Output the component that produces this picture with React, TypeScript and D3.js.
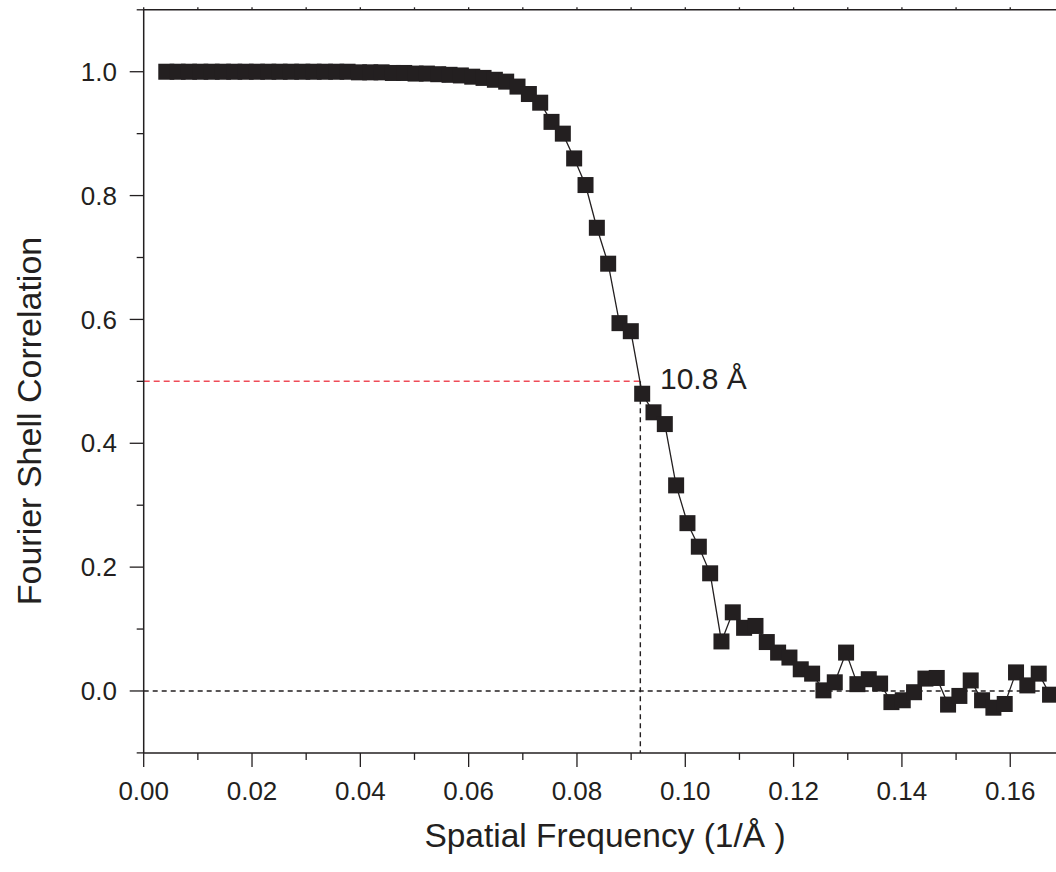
import React from 'react';
import * as d3 from 'd3';

// spatial frequency (1/Å) of each shell
const freq = [
  0.00417, 0.00626, 0.00836, 0.01045, 0.01254, 0.01463, 0.01672, 0.01882, 0.02091, 0.02300,
  0.02509, 0.02718, 0.02928, 0.03137, 0.03346, 0.03555, 0.03764, 0.03974, 0.04183, 0.04392,
  0.04601, 0.04810, 0.05020, 0.05229, 0.05438, 0.05647, 0.05856, 0.06066, 0.06275, 0.06484,
  0.06693, 0.06902, 0.07112, 0.07321, 0.07530, 0.07739, 0.07948, 0.08158, 0.08367, 0.08576,
  0.08785, 0.08994, 0.09204, 0.09413, 0.09622, 0.09831, 0.10040, 0.10250, 0.10459, 0.10668,
  0.10877, 0.11086, 0.11296, 0.11505, 0.11714, 0.11923, 0.12132, 0.12342, 0.12551, 0.12760,
  0.12969, 0.13178, 0.13388, 0.13597, 0.13806, 0.14015, 0.14224, 0.14434, 0.14643, 0.14852,
  0.15061, 0.15270, 0.15480, 0.15689, 0.15898, 0.16107, 0.16316, 0.16526, 0.16735,
];

// Fourier shell correlation values
const fsc = [
  1.000, 1.000, 1.000, 1.000, 1.000, 1.000, 1.000, 1.000, 1.000, 1.000,
  1.000, 1.000, 1.000, 1.000, 1.000, 1.000, 1.000, 0.999, 0.999, 0.999,
  0.998, 0.998, 0.997, 0.997, 0.996, 0.995, 0.994, 0.992, 0.990, 0.987,
  0.984, 0.976, 0.964, 0.950, 0.919, 0.900, 0.860, 0.817, 0.748, 0.690,
  0.594, 0.581, 0.480, 0.450, 0.431, 0.332, 0.271, 0.233, 0.190, 0.080,
  0.127, 0.102, 0.105, 0.079, 0.062, 0.054, 0.035, 0.028, 0.001, 0.014,
  0.062, 0.011, 0.019, 0.012, -0.018, -0.015, -0.002, 0.020, 0.021, -0.022,
  -0.008, 0.017, -0.015, -0.027, -0.021, 0.030, 0.009, 0.028, -0.006,
];

const xMajor = [0, 0.02, 0.04, 0.06, 0.08, 0.1, 0.12, 0.14, 0.16];
const xMinor = [0.01, 0.03, 0.05, 0.07, 0.09, 0.11, 0.13, 0.15];
const yMajor = [0, 0.2, 0.4, 0.6, 0.8, 1.0];
const yMinor = [-0.1, 0.1, 0.3, 0.5, 0.7, 0.9, 1.1];

const threshold = 0.5;
const cutoff = 0.0917; // 1 / 10.8 Å
const cutoffLabel = '10.8 Å';

const ink = '#231f20';
const font = '"Liberation Sans", Arial, Helvetica, sans-serif';

export default function App() {
  const width = 1056;
  const height = 872;

  const x = d3.scaleLinear().domain([0, 0.17]).range([143.7, 1064.4]);
  const y = d3.scaleLinear().domain([-0.1, 1.1]).range([752.9, 9.8]);

  const points = freq.map((f, i) => [f, fsc[i]] as [number, number]);
  const line = d3.line<[number, number]>()
    .x(d => x(d[0]))
    .y(d => y(d[1]));

  const x0 = x(0);
  const y0 = y(-0.1);
  const yTop = y(1.1);
  const xEnd = x(0.17);
  const sq = 16;

  return (
    <svg
      width={width}
      height={height}
      style={{ position: 'absolute', left: 0, top: 0, background: 'white' }}
    >
      {/* reference lines */}
      <line x1={x0} x2={x(cutoff)} y1={y(threshold)} y2={y(threshold)}
        stroke="#ef4c58" strokeWidth={1.5} strokeDasharray="6,4" />
      <line x1={x(cutoff)} x2={x(cutoff)} y1={y(threshold)} y2={y0}
        stroke={ink} strokeWidth={1.4} strokeDasharray="5,4" />
      <line x1={x0} x2={xEnd} y1={y(0)} y2={y(0)}
        stroke={ink} strokeWidth={1.4} strokeDasharray="5,4" />

      {/* data */}
      <path d={line(points) || ''} fill="none" stroke={ink} strokeWidth={1.3} />
      {points.map((d, i) => (
        <rect key={i} x={x(d[0]) - sq / 2} y={y(d[1]) - sq / 2} width={sq} height={sq} fill={ink} />
      ))}

      {/* frame */}
      <line x1={x0} x2={x0} y1={yTop} y2={y0} stroke={ink} strokeWidth={1.5} />
      <line x1={x0} x2={xEnd} y1={y0} y2={y0} stroke={ink} strokeWidth={1.5} />
      <line x1={x0} x2={xEnd} y1={yTop} y2={yTop} stroke={ink} strokeWidth={1.5} />

      {/* x ticks */}
      {xMajor.map(t => (
        <g key={'xM' + t}>
          <line x1={x(t)} x2={x(t)} y1={y0} y2={y0 + 14} stroke={ink} strokeWidth={1.3} />
          <text x={x(t)} y={800} textAnchor="middle" fontFamily={font} fontSize={26} fill={ink}>
            {t.toFixed(2)}
          </text>
        </g>
      ))}
      {xMinor.map(t => (
        <line key={'xm' + t} x1={x(t)} x2={x(t)} y1={y0} y2={y0 + 7} stroke={ink} strokeWidth={1.3} />
      ))}
      {xMajor.concat(xMinor).map(t => (
        <line key={'xt' + t} x1={x(t)} x2={x(t)} y1={yTop} y2={yTop - 2.5} stroke={ink} strokeWidth={1.3} />
      ))}

      {/* y ticks */}
      {yMajor.map(t => (
        <g key={'yM' + t}>
          <line x1={x0 - 14} x2={x0} y1={y(t)} y2={y(t)} stroke={ink} strokeWidth={1.3} />
          <text x={117} y={y(t)} dy="0.35em" textAnchor="end" fontFamily={font} fontSize={26} fill={ink}>
            {t.toFixed(1)}
          </text>
        </g>
      ))}
      {yMinor.map(t => (
        <line key={'ym' + t} x1={x0 - 7} x2={x0} y1={y(t)} y2={y(t)} stroke={ink} strokeWidth={1.3} />
      ))}

      {/* annotation */}
      <text x={660} y={389} fontFamily={font} fontSize={30} fill={ink}>{cutoffLabel}</text>

      {/* axis titles */}
      <text x={605} y={847} textAnchor="middle" fontFamily={font} fontSize={33.5} fill={ink}>
        Spatial Frequency (1/Å )
      </text>
      <text transform="translate(41,421) rotate(-90)" textAnchor="middle" fontFamily={font} fontSize={34} fill={ink}>
        Fourier Shell Correlation
      </text>
    </svg>
  );
}
